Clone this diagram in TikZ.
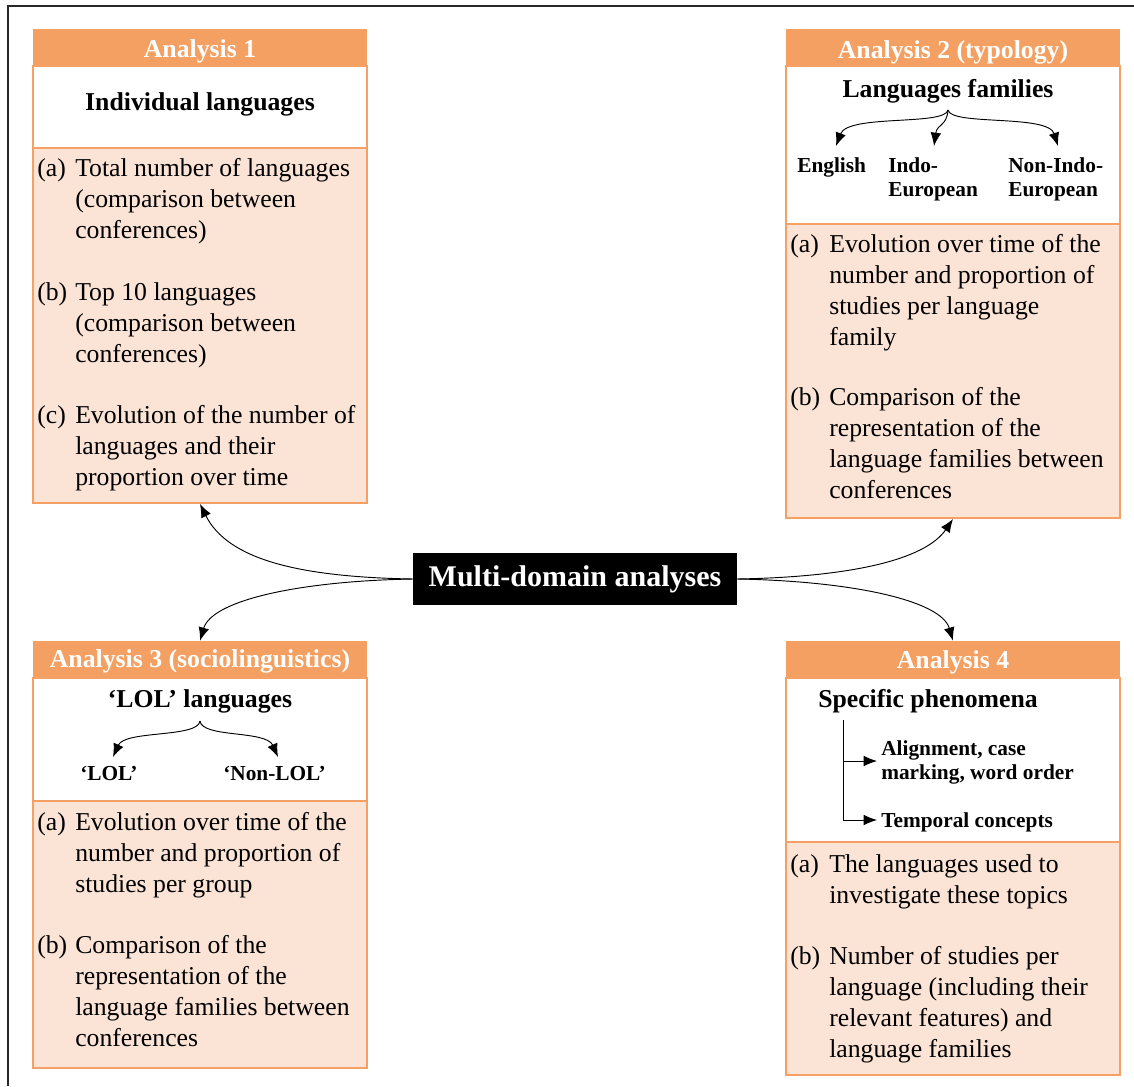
\documentclass[tikz,border=0pt]{standalone}
\usepackage{fontspec}
\setmainfont{Liberation Serif}
\usetikzlibrary{arrows.meta,fit}
\definecolor{hdrorange}{RGB}{244,160,98}
\definecolor{edgeorange}{RGB}{245,160,100}
\definecolor{pinkfill}{RGB}{251,228,214}
\definecolor{framegray}{RGB}{40,40,40}
\newcommand{\mlines}[1]{\begin{tabular}[t]{@{}l@{}}#1\end{tabular}}
\begin{document}
\begin{tikzpicture}[x=0.75pt,y=-0.75pt,
  hdrbox/.style={fill=hdrorange, draw=none, inner sep=0pt},
  whitebox/.style={fill=white, draw=edgeorange, line width=1.5pt, inner sep=0pt},
  pinkbox/.style={fill=pinkfill, draw=edgeorange, line width=1.5pt, inner sep=0pt},
  hdrtext/.style={text=white, font=\bfseries\fontsize{19.3pt}{23pt}\selectfont, inner sep=0pt, anchor=base},
  titletext/.style={font=\bfseries\fontsize{19.3pt}{23pt}\selectfont, inner sep=0pt, anchor=base},
  subtext/.style={font=\bfseries\fontsize{16pt}{18.6pt}\selectfont, inner sep=0pt, anchor=base west},
  bodytext/.style={font=\fontsize{19.3pt}{23.25pt}\selectfont, inner sep=0pt, anchor=base west},
  conn/.style={draw=black, line width=0.7pt, -{Latex[length=10pt,width=8pt]}},
]
\useasboundingbox (0,0) rectangle (1134,1086);
\draw[framegray, line width=1.2pt] (8,1086) -- (8,6) -- (1134,6);

% ---------- Box 1 ----------
\node[hdrbox, fit={(33,29) (367,66)}] (h1) {};
\node[whitebox, fit={(33,66) (367,148)}] (w1) {};
\node[pinkbox, fit={(33,148) (367,503)}] (p1) {};
\node[hdrtext] (h1t) at (200,57) {Analysis 1};
\node[titletext] (t1) at (200,110) {Individual languages};
\node[bodytext] (p1al) at (37,176) {(a)};
\node[bodytext] (p1a) at (75,176) {\mlines{Total number of languages\\(comparison between\\conferences)}};
\node[bodytext] (p1bl) at (37,300) {(b)};
\node[bodytext] (p1b) at (75,300) {\mlines{Top 10 languages\\(comparison between\\conferences)}};
\node[bodytext] (p1cl) at (37,423) {(c)};
\node[bodytext] (p1c) at (75,423) {\mlines{Evolution of the number of\\languages and their\\proportion over time}};

% ---------- Box 2 ----------
\node[hdrbox, fit={(786,29) (1120,66)}] (h2) {};
\node[whitebox, fit={(786,66) (1120,224)}] (w2) {};
\node[pinkbox, fit={(786,224) (1120,518)}] (p2) {};
\node[hdrtext] (h2t) at (953,58) {Analysis 2 (typology)};
\node[titletext] (t2) at (948,97) {Languages families};
\node[subtext] (en) at (797,172) {English};
\node[subtext] (ie) at (888,172) {\mlines{Indo-\\European}};
\node[subtext] (nie) at (1008,172) {\mlines{Non-Indo-\\European}};
\coordinate (r2) at (948,110);
\coordinate (en2) at (836,146);
\coordinate (ie2) at (934,146);
\coordinate (nie2) at (1058,146);
\draw[conn] (r2) .. controls (945,126) and (848,114) .. (en2);
\draw[conn] (r2) .. controls (947,126) and (937,124) .. (ie2);
\draw[conn] (r2) .. controls (951,126) and (1048,114) .. (nie2);
\node[bodytext] (p2al) at (790,252) {(a)};
\node[bodytext] (p2a) at (829,252) {\mlines{Evolution over time of the\\number and proportion of\\studies per language\\family}};
\node[bodytext] (p2bl) at (790,405) {(b)};
\node[bodytext] (p2b) at (829,405) {\mlines{Comparison of the\\representation of the\\language families between\\conferences}};

% ---------- Box 3 ----------
\node[hdrbox, fit={(33,641) (367,678)}] (h3) {};
\node[whitebox, fit={(33,678) (367,801)}] (w3) {};
\node[pinkbox, fit={(33,801) (367,1068)}] (p3) {};
\node[hdrtext] (h3t) at (200,667) {Analysis 3 (sociolinguistics)};
\node[titletext] (t3) at (200,707) {‘LOL’ languages};
\node[subtext] (lol) at (80,780) {‘LOL’};
\node[subtext] (nlol) at (223,780) {‘Non-LOL’};
\coordinate (r3) at (200,721);
\coordinate (lol2) at (113,757);
\coordinate (nlol2) at (278,757);
\draw[conn] (r3) .. controls (198,738) and (125,730) .. (lol2);
\draw[conn] (r3) .. controls (202,738) and (266,730) .. (nlol2);
\node[bodytext] (p3al) at (37,830) {(a)};
\node[bodytext] (p3a) at (75,830) {\mlines{Evolution over time of the\\number and proportion of\\studies per group}};
\node[bodytext] (p3bl) at (37,953) {(b)};
\node[bodytext] (p3b) at (75,953) {\mlines{Comparison of the\\representation of the\\language families between\\conferences}};

% ---------- Box 4 ----------
\node[hdrbox, fit={(786,641) (1120,678)}] (h4) {};
\node[whitebox, fit={(786,678) (1120,842)}] (w4) {};
\node[pinkbox, fit={(786,842) (1120,1075)}] (p4) {};
\node[hdrtext] (h4t) at (953,668) {Analysis 4};
\node[titletext, anchor=base west] (t4) at (818,707) {Specific phenomena};
\node[subtext] (al) at (881,755) {\mlines{Alignment, case\\marking, word order}};
\node[subtext] (tc) at (881,827) {Temporal concepts};
\coordinate (r4) at (843,720);
\coordinate (m4) at (843,761);
\coordinate (al2) at (877,761);
\coordinate (tc2) at (877,820);
\draw[conn] (r4) |- (tc2);
\draw[conn] (m4) -- (al2);
\node[bodytext] (p4al) at (790,872) {(a)};
\node[bodytext] (p4a) at (829,872) {\mlines{The languages used to\\investigate these topics}};
\node[bodytext] (p4bl) at (790,964) {(b)};
\node[bodytext] (p4b) at (829,964) {\mlines{Number of studies per\\language (including their\\relevant features) and\\language families}};

% ---------- Centre ----------
\node[fill=black, text=white, font=\bfseries\fontsize{22.5pt}{26pt}\selectfont, minimum width=243pt, minimum height=39pt, inner sep=0pt] (center) at (575,579) {Multi-domain analyses};
\draw[conn] (center.west) .. controls (300,577) and (228,560) .. (p1.south);
\draw[conn] (center.west) .. controls (300,581) and (212,600) .. (h3.north);
\draw[conn] (center.east) .. controls (850,577) and (925,560) .. (p2.south);
\draw[conn] (center.east) .. controls (850,581) and (941,600) .. (h4.north);
\end{tikzpicture}
\end{document}
